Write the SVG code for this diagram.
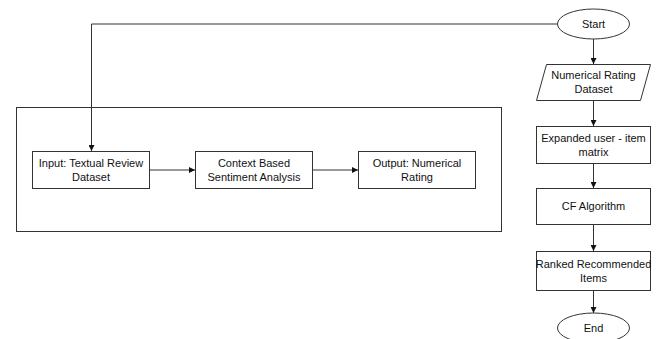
<svg xmlns="http://www.w3.org/2000/svg" width="658" height="339" viewBox="0 0 658 339">
<style>
.s{fill:#fff;stroke:#333;stroke-width:1}
.c{fill:none;stroke:#333;stroke-width:1}
text{font-family:"Liberation Sans",Arial,sans-serif;font-size:11px;fill:#111;text-anchor:middle}
</style>
<defs>
<marker id="a" viewBox="0 0 8 8" refX="8" refY="4" markerWidth="6" markerHeight="6" orient="auto" markerUnits="userSpaceOnUse">
<path d="M0,0 L8,4 L0,8 Z" fill="#111"/>
</marker>
</defs>
<rect fill="#fff" x="0" y="0" width="658" height="339"/>
<g id="container"><rect class="c" x="16.5" y="107.5" width="485" height="124"/></g>
<g id="connectors">
<path class="c" d="M557,24 H91.5 V151" marker-end="url(#a)"/>
<path class="c" d="M149,170 H195" marker-end="url(#a)"/>
<path class="c" d="M312,170 H358" marker-end="url(#a)"/>
<path class="c" d="M593.5,39 V64" marker-end="url(#a)"/>
<path class="c" d="M593.5,100 V126" marker-end="url(#a)"/>
<path class="c" d="M593.5,164 V188" marker-end="url(#a)"/>
<path class="c" d="M593.5,224 V251" marker-end="url(#a)"/>
<path class="c" d="M593.5,290 V313" marker-end="url(#a)"/>
</g>
<g id="input"><rect class="s" x="32.5" y="151.5" width="117" height="37"/><text x="91" y="167">Input: Textual Review</text><text x="91" y="181">Dataset</text></g>
<g id="context"><rect class="s" x="195.5" y="151.5" width="117" height="37"/><text x="254" y="167">Context Based</text><text x="254" y="181">Sentiment Analysis</text></g>
<g id="output"><rect class="s" x="358.5" y="151.5" width="117" height="37"/><text x="417" y="167">Output: Numerical</text><text x="417" y="181">Rating</text></g>
<g id="start"><ellipse class="s" cx="593.5" cy="24" rx="36" ry="15"/><text x="593.5" y="28">Start</text></g>
<g id="dataset"><path class="s" d="M546.5,64.5 H650.5 L640.5,100.5 H536.5 Z"/><text x="593.5" y="79">Numerical Rating</text><text x="593.5" y="93">Dataset</text></g>
<g id="expanded"><rect class="s" x="536.5" y="126.5" width="114" height="37"/><text x="593.5" y="142">Expanded user - item</text><text x="593.5" y="156">matrix</text></g>
<g id="cf"><rect class="s" x="536.5" y="188.5" width="114" height="36"/><text x="593.5" y="210">CF Algorithm</text></g>
<g id="ranked"><rect class="s" x="536.5" y="251.5" width="114" height="39"/><text x="593.5" y="268">Ranked Recommended</text><text x="593.5" y="282">Items</text></g>
<g id="end"><ellipse class="s" cx="593.5" cy="328" rx="36" ry="15"/><text x="593.5" y="332">End</text></g>
</svg>
